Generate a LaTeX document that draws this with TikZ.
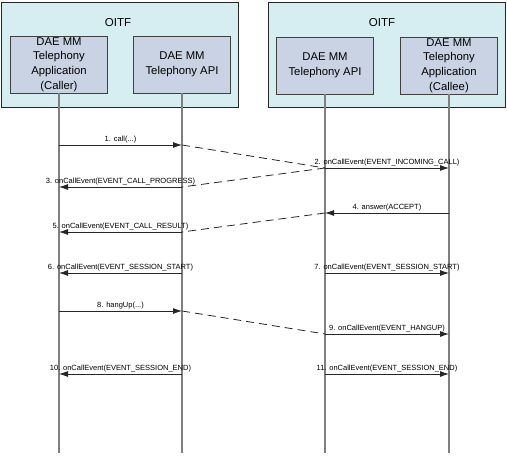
\documentclass[tikz,border=0pt]{standalone}
\usepackage{fontspec}
\setmainfont{Liberation Sans}
\usepackage{tikz}
\usetikzlibrary{arrows.meta}
\usetikzlibrary{positioning}
\definecolor{oitfbg}{HTML}{D6EDF1}
\definecolor{boxbg}{HTML}{C9D3E3}
\definecolor{lifegray}{HTML}{7F7F7F}

\begin{document}
\begin{tikzpicture}[x=1bp, y=-1bp]
 \tikzstyle{oitf}=[rectangle, draw=black!85, fill=oitfbg, line width=0.8bp, minimum width=237bp, minimum height=105bp, inner sep=0pt]
 \tikzstyle{comp}=[rectangle, draw=black!75, fill=boxbg, line width=0.8bp, minimum width=97bp, minimum height=57bp, inner sep=0pt, align=center, font=\fontsize{11.3bp}{14.7bp}\selectfont]
 \tikzstyle{life}=[draw=lifegray, line width=1.4bp]
 \tikzstyle{msg}=[draw=black!85, line width=0.8bp, -{Latex[length=9bp,width=6bp]}]
 \tikzstyle{link}=[draw=black!85, line width=0.8bp, dash pattern=on 8bp off 5bp]
 \tikzstyle{lbl}=[font=\fontsize{7.5bp}{8bp}\selectfont, inner sep=1.5pt]

 \useasboundingbox (0,0) rectangle (507,456);

 % the two OITF boxes
 \begin{scope}
  \node[oitf] (oitfL) at (119.5,54.5) {};
  \node[font=\fontsize{11.5bp}{13bp}\selectfont] (oitfLtxt) at (118,23) {OITF};
  \node[comp] (caller) at (59,64.5) {DAE MM\\Telephony\\Application\\(Caller)};
  \node[comp] (apiL) at (182,64.5) {DAE MM\\Telephony API};
 \end{scope}

 \begin{scope}
  \node[oitf] (oitfR) at (386.5,55) {};
  \node[font=\fontsize{11.5bp}{13bp}\selectfont] (oitfRtxt) at (382,23) {OITF};
  \node[comp] (apiR) at (325,65.5) {DAE MM\\Telephony API};
  \node[comp] (callee) at (449,65.5) {DAE MM\\Telephony\\Application\\(Callee)};
 \end{scope}

 % lifelines
 \coordinate (caEnd) at (59,453);
 \coordinate (laEnd) at (182,453);
 \coordinate (raEnd) at (325,453);
 \coordinate (ceEnd) at (449,453);
 \path [life] (caller.south) -- (caEnd);
 \path [life] (apiL.south) -- (laEnd);
 \path [life] (apiR.south) -- (raEnd);
 \path [life] (callee.south) -- (ceEnd);

 % points on the lifelines
 \coordinate (ca1) at (59,145);   \coordinate (la1) at (182,145);
 \coordinate (ra2) at (325,168);  \coordinate (ce2) at (449,168);
 \coordinate (la3) at (182,187);  \coordinate (ca3) at (59,187);
 \coordinate (ce4) at (449,213);  \coordinate (ra4) at (325,213);
 \coordinate (la5) at (182,232);  \coordinate (ca5) at (59,232);
 \coordinate (la6) at (182,273);  \coordinate (ca6) at (59,273);
 \coordinate (ra7) at (325,273);  \coordinate (ce7) at (449,273);
 \coordinate (ca8) at (59,311);   \coordinate (la8) at (182,311);
 \coordinate (ra9) at (325,334);  \coordinate (ce9) at (449,334);
 \coordinate (la10) at (182,374); \coordinate (ca10) at (59,374);
 \coordinate (ra11) at (325,374); \coordinate (ce11) at (449,374);

 % messages
 \path [msg] (ca1) -- node[lbl, above]{1. call(...)} (la1);
 \path [link] (la1) -- (ra2);
 \path [msg] (ra2) -- node[lbl, above]{2. onCallEvent(EVENT\_INCOMING\_CALL)} (ce2);
 \path [link] (ra2) -- (la3);
 \path [msg] (la3) -- node[lbl, above]{3. onCallEvent(EVENT\_CALL\_PROGRESS)} (ca3);
 \path [msg] (ce4) -- node[lbl, above]{4. answer(ACCEPT)} (ra4);
 \path [link] (ra4) -- (la5);
 \path [msg] (la5) -- node[lbl, above]{5. onCallEvent(EVENT\_CALL\_RESULT)} (ca5);
 \path [msg] (la6) -- node[lbl, above]{6. onCallEvent(EVENT\_SESSION\_START)} (ca6);
 \path [msg] (ra7) -- node[lbl, above]{7. onCallEvent(EVENT\_SESSION\_START)} (ce7);
 \path [msg] (ca8) -- node[lbl, above]{8. hangUp(...)} (la8);
 \path [link] (la8) -- (ra9);
 \path [msg] (ra9) -- node[lbl, above]{9. onCallEvent(EVENT\_HANGUP)} (ce9);
 \path [msg] (la10) -- node[lbl, above]{10. onCallEvent(EVENT\_SESSION\_END)} (ca10);
 \path [msg] (ra11) -- node[lbl, above]{11. onCallEvent(EVENT\_SESSION\_END)} (ce11);

\end{tikzpicture}
\end{document}
